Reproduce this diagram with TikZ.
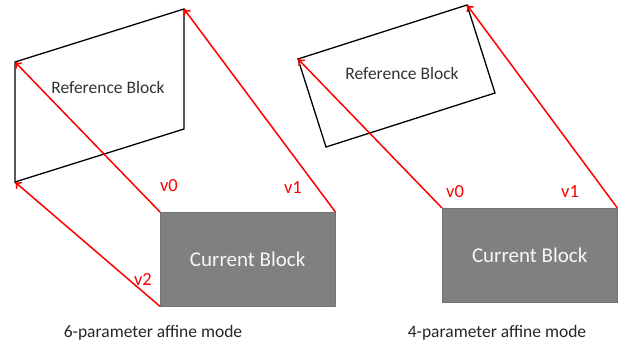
\documentclass[tikz,border=0pt]{standalone}
\usepackage{fontspec}
\setmainfont{Carlito}
\usetikzlibrary{arrows.meta}
\begin{document}
\begin{tikzpicture}[
x=1pt, y=-1pt,
refblock/.style={draw=black, line width=1.3pt},
reflabel/.style={font=\fontsize{17.5}{20}\selectfont, text=black!80},
curblock/.style={
draw=gray!90!black,
fill=gray,
text=white!94!gray,
minimum width=175pt,
minimum height=94pt,
inner sep=0pt,
font=\fontsize{21}{24}\selectfont
},
mv/.style={draw=red, line width=1.5pt, -{To[length=6pt,width=9pt]}},
mvlabel/.style={text=red, font=\fontsize{18.5}{21}\selectfont},
caption/.style={font=\fontsize{17.5}{20}\selectfont, text=black!85}
]
\useasboundingbox (0,0) rectangle (621,347);
% 6-parameter
\coordinate (a0) at (15,62);
\coordinate (a1) at (184,9);
\coordinate (a3) at (184,129);
\coordinate (a2) at (15,182);
\draw[refblock] (a0) -- (a1) -- (a3) -- (a2) -- cycle;
\node[reflabel] (refa) at (108,87) {Reference Block};
\node[curblock, anchor=north west] (cura) at (160,212) {Current Block};
\draw[mv] (cura.north west) -- (a0);
\draw[mv] (cura.north east) -- (a1);
\draw[mv] (cura.south west) -- (a2);
\node[mvlabel] (v0a) at (169,186) {v0};
\node[mvlabel] (v1a) at (293,188) {v1};
\node[mvlabel] (v2a) at (143,279) {v2};
\node[caption] (capa) at (153,333) {6-parameter affine mode};
% 4-parameter
\coordinate (b0) at (298,59);
\coordinate (b1) at (467,5);
\coordinate (b3) at (495,93);
\coordinate (b2) at (326,147);
\draw[refblock] (b0) -- (b1) -- (b3) -- (b2) -- cycle;
\node[reflabel] (refb) at (402,73) {Reference Block};
\node[curblock, anchor=north west] (curb) at (442,208) {Current Block};
\draw[mv] (curb.north west) -- (b0);
\draw[mv] (curb.north east) -- (b1);
\node[mvlabel] (v0b) at (455,192) {v0};
\node[mvlabel] (v1b) at (570,192) {v1};
\node[caption] (capb) at (497,333) {4-parameter affine mode};
\end{tikzpicture}
\end{document}
